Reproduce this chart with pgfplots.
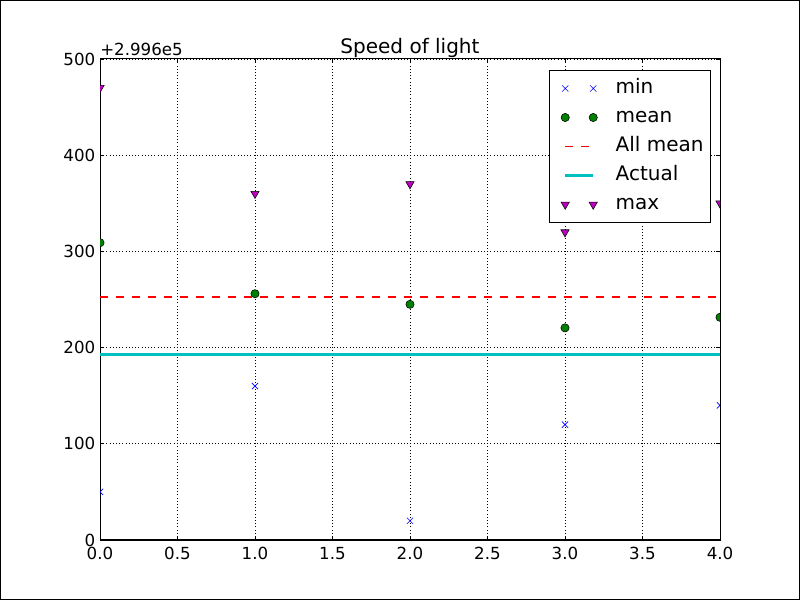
\documentclass[border=0pt]{standalone}
\usepackage{pgfplots}
\pgfplotsset{compat=1.18}
\usepackage{fontspec}
\setmainfont{DejaVu Sans}
\definecolor{mplgreen}{rgb}{0,0.5,0}
\definecolor{mplmag}{rgb}{0.75,0,0.75}
\definecolor{mplcyan}{rgb}{0,0.75,0.75}
\pgfplotsset{
  marklegend/.style={legend image code/.code={\path (-7.3pt,0pt) (24.3pt,0pt); \draw[##1] plot coordinates {(0pt,0pt) (21pt,0pt)};}},
  linelegend/.style={legend image code/.code={\path (-7.3pt,0pt) (24.3pt,0pt); \draw[##1] (0pt,0pt) -- (21pt,0pt);}},
}
\begin{document}
\begin{tikzpicture}
\path[use as bounding box] (0pt,0pt) rectangle (600pt,450pt);
\draw[line width=1pt] (0.5pt,0.5pt) rectangle (599.5pt,449.5pt);
\begin{axis}[
  name=ax,
  at={(75pt,45pt)}, anchor=south west,
  scale only axis, width=465pt, height=360.75pt,
  xmin=0, xmax=4, ymin=0, ymax=500,
  xtick={0,0.5,...,4}, ytick={0,100,...,500},
  /pgf/number format/assume math mode=true,
  xticklabel style={/pgf/number format/fixed, /pgf/number format/fixed zerofill, /pgf/number format/precision=1, yshift=-2pt},
  ticklabel style={font=\fontsize{12.5}{15}\selectfont},
  tick align=inside, major tick length=3pt,
  tick style={black, line width=0.6pt},
  axis line style={line width=0.75pt},
  grid=major, major grid style={black, line width=0.45pt, dash pattern=on 0.6pt off 1.8pt},
  clip marker paths=true,
  title={Speed of light},
  title style={font=\fontsize{15}{18}\selectfont, at={(0.5,1)}, anchor=base, yshift=-2pt, inner sep=0pt},
  legend style={at={(1,1)}, anchor=north east, xshift=-6.75pt, yshift=-8.25pt,
    draw=black, line width=0.75pt, font=\fontsize{15}{18}\selectfont,
    inner xsep=3.2pt, inner ysep=6pt, column sep=10.5pt, row sep=6.75pt,
    nodes={inner xsep=2pt, inner ysep=0pt, text height=11.5pt, text depth=3.5pt}},
  legend cell align=left,
]
\addplot[only marks, mark=x, color=blue, mark size=3.3pt, line width=0.5pt, marklegend]
  coordinates {(0,50) (1,160) (2,20) (3,120) (4,140)};
\addlegendentry{min}
\addplot[only marks, mark=*, mark size=3.1pt, mark options={fill=mplgreen, draw=black, line width=0.4pt}, marklegend]
  coordinates {(0,309) (1,256) (2,245) (3,220.5) (4,231.5)};
\addlegendentry{mean}
\addplot[no marks, line width=1.1pt, dash pattern=on 6pt off 6pt, color=red, linelegend]
  coordinates {(0,252.4) (4,252.4)};
\addlegendentry{All mean}
\addplot[mplcyan, line width=2.1pt, no marks, linelegend]
  coordinates {(0,192.458) (4,192.458)};
\addlegendentry{Actual}
\addplot[only marks, mark=triangle*, mark size=3.6pt, mark options={rotate=180, fill=mplmag, draw=black, line width=0.4pt}, marklegend]
  coordinates {(0,470) (1,360) (2,370) (3,320) (4,350)};
\addlegendentry{max}
\end{axis}
\node[anchor=base west, inner sep=0pt, font=\fontsize{12.5}{15}\selectfont, yshift=2.25pt] at (ax.north west) {+2.996e5};
\end{tikzpicture}
\end{document}
